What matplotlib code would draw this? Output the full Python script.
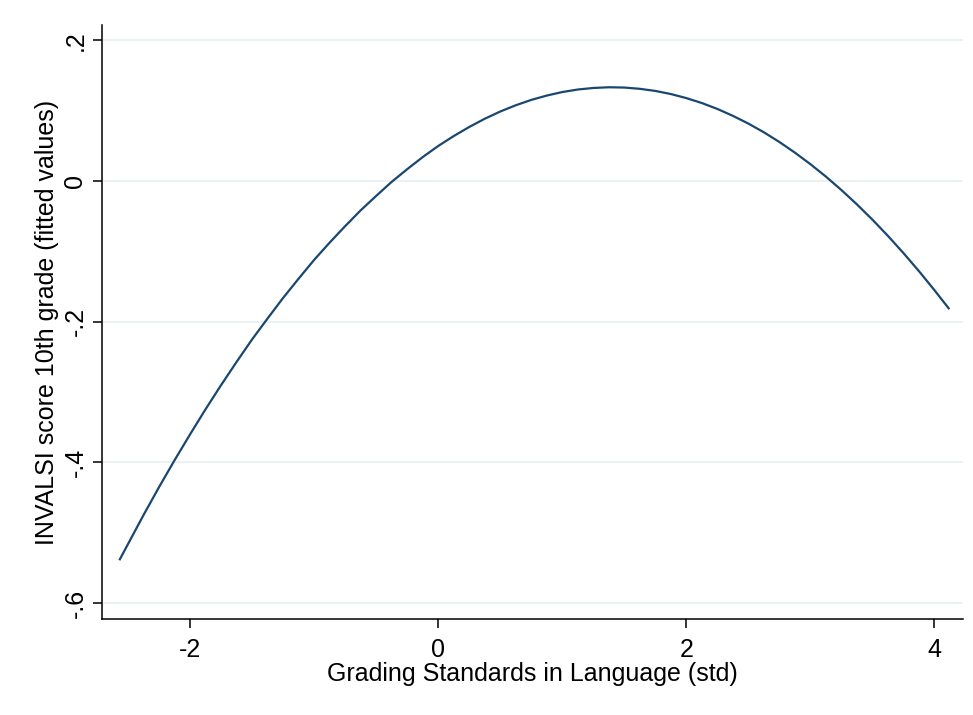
import numpy as np
from matplotlib import pyplot as plt

# fitted values
grading_std = [-2.57, -2.375, -2.25, -2.125, -2.0, -1.875, -1.75, -1.625, -1.5, -1.375,
               -1.25, -1.125, -1.0, -0.875, -0.75, -0.625, -0.5, -0.375, -0.25, -0.125,
               0.0, 0.125, 0.25, 0.375, 0.5, 0.625, 0.75, 0.875, 1.0, 1.125,
               1.25, 1.375, 1.5, 1.625, 1.75, 1.875, 2.0, 2.125, 2.25, 2.375,
               2.5, 2.625, 2.75, 2.875, 3.0, 3.125, 3.25, 3.375, 3.5, 3.625,
               3.75, 3.875, 4.0, 4.12]
invalsi_fit = [-0.539, -0.4747, -0.435, -0.3968, -0.360, -0.3243, -0.290, -0.2570, -0.225, -0.1952,
               -0.166, -0.1386, -0.112, -0.0874, -0.064, -0.0415, -0.021, -0.0010, 0.017, 0.0342,
               0.050, 0.0641, 0.077, 0.0887, 0.099, 0.1079, 0.1155, 0.1217, 0.1267, 0.1303,
               0.1325, 0.1335, 0.1331, 0.1313, 0.1283, 0.1239, 0.1181, 0.1111, 0.1027, 0.0929,
               0.0819, 0.0695, 0.0557, 0.0406, 0.0242, 0.0065, -0.0126, -0.0330, -0.0547, -0.0778,
               -0.1022, -0.1279, -0.155, -0.182]

xticks = [-2, 0, 2, 4]
yticks = [0.2, 0.0, -0.2, -0.4, -0.6]
ytick_labels = [".2", "0", "-.2", "-.4", "-.6"]


def main():
    plt.rcParams['font.family'] = ['Liberation Sans', 'DejaVu Sans']

    fig = plt.figure(figsize=(9.73, 7.15), dpi=100)
    ax = fig.add_axes([0.1048, 0.1338, 0.8849, 0.8312])

    for yv in yticks:
        ax.axhline(yv, color='#eaf2f3', lw=1.4, zorder=0)

    ax.plot(grading_std, invalsi_fit, color='#1a476f', lw=1.6,
            solid_capstyle='butt', solid_joinstyle='round')

    ax.set_xlim(-2.71, 4.23)
    ax.set_ylim(-0.623, 0.222)

    ax.set_xticks(xticks)
    ax.set_xticklabels([str(v) for v in xticks])
    ax.set_yticks(yticks)
    ax.set_yticklabels(ytick_labels, rotation=90, va='center')

    for side in ['top', 'right']:
        ax.spines[side].set_visible(False)
    for side in ['left', 'bottom']:
        ax.spines[side].set_linewidth(1.1)
        ax.spines[side].set_color('black')

    ax.tick_params(axis='x', length=6.5, width=1.1, pad=7, labelsize=18)
    ax.tick_params(axis='y', length=6.5, width=1.1, pad=4, labelsize=18)

    ax.set_xlabel("Grading Standards in Language (std)", fontsize=18, labelpad=0)
    ax.set_ylabel("INVALSI score 10th grade (fitted values)", fontsize=18, labelpad=3)

    fig.savefig("out.png", dpi=100)


if __name__ == '__main__':
    main()
